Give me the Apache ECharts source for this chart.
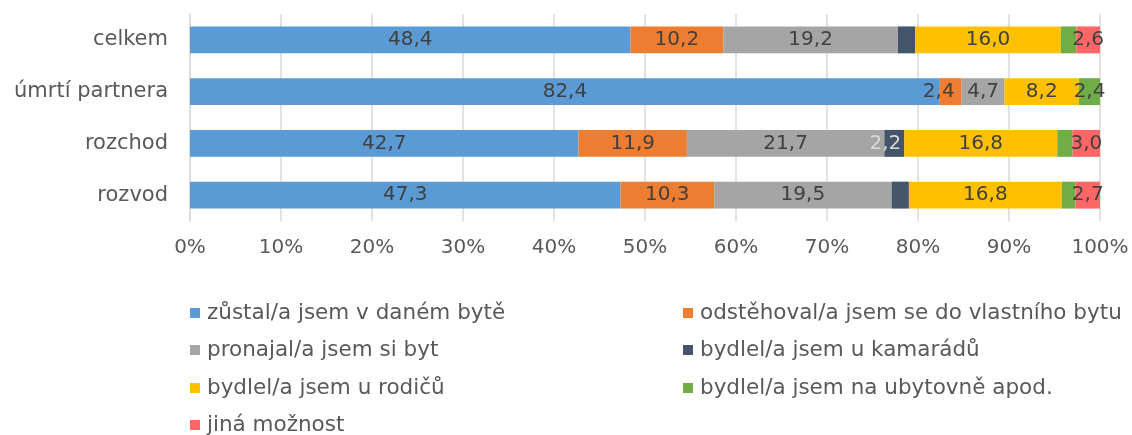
<!DOCTYPE html>
<html>
<head>
<meta charset="utf-8">
<script src="https://cdn.jsdelivr.net/npm/echarts@6/dist/echarts.min.js"></script>
<style>
  html, body { margin: 0; padding: 0; background: #fff; }
  #container { width: 1132px; height: 435px; }
</style>
</head>
<body>
<div id="container"></div>
<script>
var categories = ['celkem', 'úmrtí partnera', 'rozchod', 'rozvod'];
var seriesNames = [
  'zůstal/a jsem v daném bytě',
  'odstěhoval/a jsem se do vlastního bytu',
  'pronajal/a jsem si byt',
  'bydlel/a jsem u kamarádů',
  'bydlel/a jsem u rodičů',
  'bydlel/a jsem na ubytovně apod.',
  'jiná možnost'
];
var colors = ['#5b9bd5', '#ed7d31', '#a5a5a5', '#44546a', '#ffc000', '#70ad47', '#ff6666'];

var zustal = [48.4, 82.4, 42.7, 47.3];
var odstehoval = [10.2, 2.4, 11.9, 10.3];
var pronajal = [19.2, 4.7, 21.7, 19.5];
var kamaradi = [1.9, 0, 2.2, 1.9];
var rodice = [16.0, 8.2, 16.8, 16.8];
var ubytovna = [1.7, 2.4, 1.7, 1.5];
var jina = [2.6, 0, 3.0, 2.7];

var xTicks = ['0%', '10%', '20%', '30%', '40%', '50%', '60%', '70%', '80%', '90%', '100%'];

var values = [zustal, odstehoval, pronajal, kamaradi, rodice, ubytovna, jina];

var dom = document.getElementById('container');
var myChart = echarts.init(dom, null, { renderer: 'canvas' });

// posun popisku u uzkych useku (serie-kategorie -> posun v px)
var labelShift = { '1-1': -12, '3-2': -9 };

var series = values.map(function (arr, i) {
  return {
    name: seriesNames[i],
    type: 'bar',
    stack: 'Total',
    barCategoryGap: '48%',
    itemStyle: { color: colors[i] },
    label: {
      show: true,
      position: 'inside',
      color: i === 3 ? '#d9d9d9' : '#404040',
      fontFamily: 'DejaVu Sans',
      fontSize: 20,
      formatter: function (p) {
        return p.value > 2 ? p.value.toFixed(1).replace('.', ',') : '';
      }
    },
    data: arr.map(function (v, j) {
      var s = labelShift[i + '-' + j];
      return s ? { value: v, label: { offset: [s, 0] } } : v;
    })
  };
});

// legenda ve dvou sloupcich, kazda polozka zvlast
var legendCols = [190, 683];
var legendRows = [302, 339, 377, 414];
var legends = seriesNames.map(function (name, i) {
  return {
    orient: 'horizontal',
    left: legendCols[i % 2],
    top: legendRows[Math.floor(i / 2)],
    padding: 0,
    itemWidth: 10, itemHeight: 10,
    icon: 'rect',
    textStyle: { color: '#595959', fontFamily: 'DejaVu Sans', fontSize: 21.5, padding: [0, 0, 0, 2] },
    data: [name]
  };
});

var option = {
  animation: false,
  grid: { left: 190, right: 32, top: 14, bottom: 214 },
  legend: legends,
  xAxis: {
    type: 'value',
    min: 0, max: 100, interval: 10,
    axisLine: { show: false },
    axisTick: { show: false },
    splitLine: { show: true, lineStyle: { color: '#d9d9d9', width: 1.5 } },
    axisLabel: {
      color: '#595959', fontFamily: 'DejaVu Sans', fontSize: 20, margin: 17,
      formatter: function (v) { return xTicks[Math.round(v / 10)]; }
    }
  },
  yAxis: {
    type: 'category',
    inverse: true,
    data: categories,
    axisLine: { show: true, lineStyle: { color: '#d9d9d9', width: 1.5 } },
    axisTick: { show: false },
    axisLabel: { color: '#595959', fontFamily: 'DejaVu Sans', fontSize: 21, margin: 22 }
  },
  series: series
};

myChart.setOption(option);
window.addEventListener('resize', myChart.resize);
</script>
</body>
</html>
